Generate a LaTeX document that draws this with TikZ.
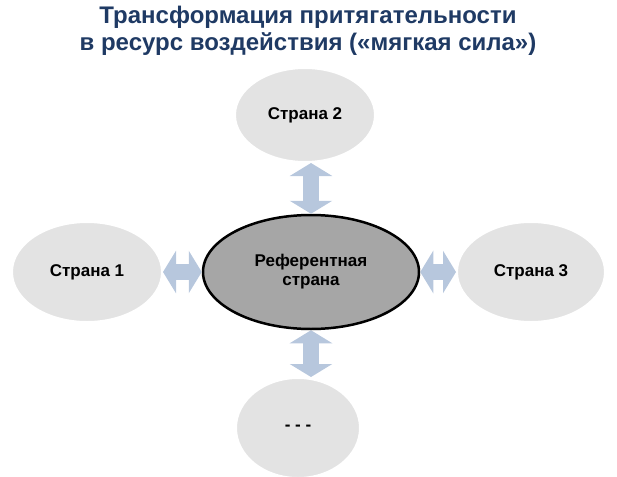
\documentclass[tikz,border=0pt]{standalone}
\usepackage{fontspec}
\setmainfont{Liberation Sans}
\usetikzlibrary{arrows.meta,shapes.geometric}
\definecolor{navy}{HTML}{1F3A64}
\definecolor{arrowc}{HTML}{B7C7DD}
\tikzset{
 outer/.style={ellipse,fill=gray!22,draw=white,line width=2pt,font=\bfseries\fontsize{17}{19}\selectfont},
 link/.style={arrowc,line width=16pt,{Triangle[length=13pt,width=42pt]}-{Triangle[length=13pt,width=42pt]}}
}
\begin{document}
\begin{tikzpicture}[x=1pt,y=-1pt]
\useasboundingbox (0,0) rectangle (617,476);
\node[font=\bfseries\fontsize{24}{27}\selectfont,text=navy,align=center] (title) at (308,31) {Трансформация притягательности\\в ресурс воздействия («мягкая сила»)};
\node[ellipse,fill=gray!70,draw=black,line width=2.5pt,minimum width=216pt,minimum height=114pt,align=center,font=\bfseries\fontsize{17}{19}\selectfont] (c) at (311,272) {Референтная\\страна};
\node[outer,minimum width=140pt,minimum height=94pt] (t) at (305,115) {Страна 2};
\node[outer,minimum width=150pt,minimum height=100pt] (l) at (87,272) {Страна 1};
\node[outer,minimum width=148pt,minimum height=100pt] (r) at (531,272) {Страна 3};
\node[outer,minimum width=124pt,minimum height=100pt] (b) at (298,428) {- - -};
\coordinate (tb) at (c.north |- t.south);
\coordinate (bt) at (c.south |- b.north);
\draw[link] (c.north) -- (tb);
\draw[link] (c.west) -- (l);
\draw[link] (c.east) -- (r);
\draw[link] (c.south) -- (bt);
\end{tikzpicture}
\end{document}
